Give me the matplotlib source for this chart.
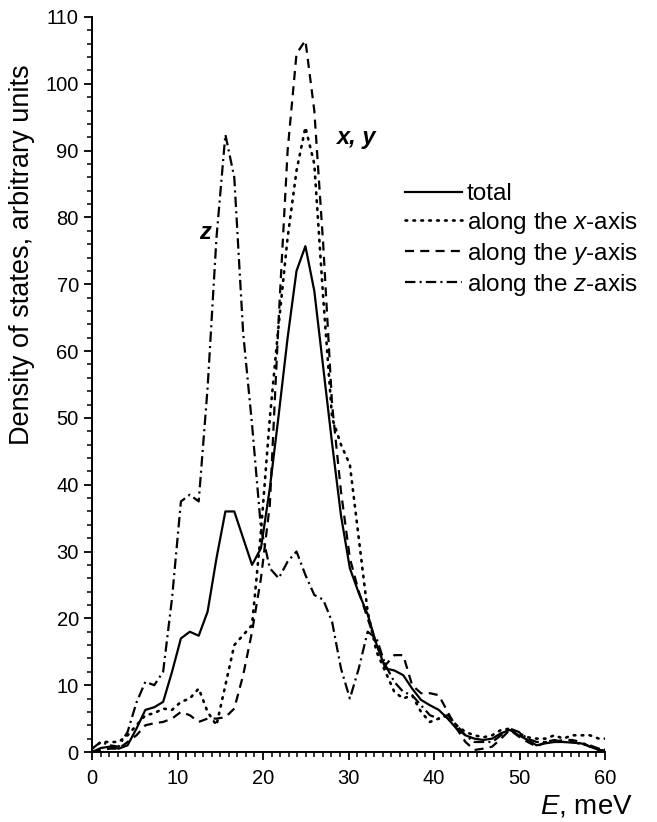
import matplotlib
matplotlib.use("Agg")
import matplotlib.pyplot as plt
from matplotlib.ticker import MultipleLocator

plt.rcParams['font.family'] = ['Liberation Sans', 'DejaVu Sans']
plt.rcParams['mathtext.fontset'] = 'custom'
plt.rcParams['mathtext.it'] = 'Liberation Sans:italic'
plt.rcParams['mathtext.rm'] = 'Liberation Sans'
plt.rcParams['lines.scale_dashes'] = False

# Energy grid (meV)
E = [0.00, 1.04, 2.08, 3.12, 4.16, 5.20, 6.24, 7.28, 8.32, 9.36,
     10.40, 11.44, 12.48, 13.52, 14.56, 15.60, 16.64, 17.68, 18.72, 19.76,
     20.80, 21.84, 22.88, 23.92, 24.96, 26.00, 27.04, 28.08, 29.12, 30.16,
     31.20, 32.24, 33.28, 34.32, 35.36, 36.40, 37.44, 38.48, 39.52, 40.56,
     41.60, 42.64, 43.68, 44.72, 45.76, 46.80, 47.84, 48.88, 49.92, 50.96,
     52.00, 53.04, 54.08, 55.12, 56.16, 57.20, 58.24, 59.28, 60.32]

total = [0.0, 0.6, 0.8, 0.5, 1.0, 3.5, 6.3, 6.7, 7.5, 12.0,
         17.0, 18.0, 17.4, 21.0, 29.0, 36.0, 36.0, 32.0, 28.0, 30.5,
         39.5, 50.5, 62.0, 72.0, 75.7, 69.0, 57.6, 46.2, 35.4, 27.5,
         23.8, 20.6, 16.1, 12.5, 12.2, 11.5, 9.5, 7.8, 7.0, 6.3,
         5.0, 3.5, 2.5, 2.0, 1.8, 2.0, 2.8, 3.3, 2.5, 1.8,
         1.0, 1.3, 1.5, 1.5, 1.4, 1.3, 0.8, 0.3, 0.0]

x_axis = [0.5, 1.5, 1.5, 1.5, 2.5, 4.0, 5.5, 5.8, 6.5, 6.3,
          7.5, 8.0, 9.5, 6.0, 4.0, 10.0, 16.0, 17.5, 19.0, 33.0,
          50.0, 64.0, 77.0, 87.0, 93.5, 88.0, 68.0, 50.0, 46.0, 43.0,
          32.0, 21.0, 15.0, 12.0, 9.0, 8.0, 8.5, 6.0, 4.5, 5.0,
          5.5, 4.0, 3.0, 2.5, 2.2, 2.5, 3.3, 3.5, 2.8, 2.2,
          2.0, 2.0, 2.5, 2.0, 2.5, 2.5, 2.5, 2.0, 2.0]

y_axis = [0.0, 0.3, 0.5, 0.5, 1.5, 2.5, 4.0, 4.3, 4.5, 5.0,
          6.0, 5.5, 4.5, 5.0, 5.0, 5.2, 6.5, 11.5, 18.0, 26.0,
          37.0, 65.0, 90.0, 104.5, 106.5, 96.0, 76.0, 52.0, 39.0, 29.0,
          24.0, 20.0, 16.0, 13.0, 14.5, 14.5, 10.0, 8.8, 8.8, 8.5,
          6.0, 3.5, 1.5, 0.3, 0.5, 0.8, 2.0, 3.3, 2.3, 1.5,
          0.8, 1.5, 1.5, 1.8, 1.8, 1.5, 0.8, 0.3, 0.2]

z_axis = [0.5, 1.5, 1.0, 0.8, 3.0, 7.4, 10.5, 10.0, 12.0, 23.0,
          37.5, 38.5, 37.5, 54.5, 77.0, 92.4, 86.0, 62.7, 49.0, 33.5,
          27.5, 26.0, 28.5, 30.0, 26.5, 23.5, 22.8, 19.5, 12.5, 8.0,
          12.5, 18.0, 17.0, 13.0, 10.5, 9.0, 8.5, 7.0, 5.5, 5.0,
          5.5, 4.0, 2.5, 1.5, 1.5, 1.5, 2.5, 3.5, 3.0, 2.0,
          1.5, 1.5, 1.8, 1.5, 1.5, 1.2, 1.0, 0.5, 0.3]

labels = ['total', 'along the $\\it{x}$-axis', 'along the $\\it{y}$-axis',
          'along the $\\it{z}$-axis']

fig = plt.figure(figsize=(6.57, 8.22), dpi=100)
ax = fig.add_axes([92/657, 1-752/822, (605-92)/657, (752-17)/822])

lw = 1.6
ax.plot(E, total, color='black', lw=lw, ls='-', label=labels[0])
ax.plot(E, x_axis, color='black', lw=lw+0.3, ls=(0, (1.2, 4.5)),
        dash_capstyle='round', label=labels[1])
ax.plot(E, y_axis, color='black', lw=lw, ls=(0, (6.5, 4.5)), label=labels[2])
ax.plot(E, z_axis, color='black', lw=lw, ls=(0, (7.5, 3, 1.5, 3)), label=labels[3])

ax.set_xlim(0, 60)
ax.set_ylim(0, 110)
ax.xaxis.set_major_locator(MultipleLocator(10))
ax.xaxis.set_minor_locator(MultipleLocator(1))
ax.yaxis.set_major_locator(MultipleLocator(10))
ax.yaxis.set_minor_locator(MultipleLocator(2))
ax.tick_params(which='major', direction='out', length=6, width=1.3, labelsize=14.5)
ax.tick_params(axis='x', which='major', pad=6)
ax.tick_params(which='minor', direction='out', length=3.5, width=1.1)
for s in ['top', 'right']:
    ax.spines[s].set_visible(False)
for s in ['left', 'bottom']:
    ax.spines[s].set_linewidth(1.4)

ax.set_ylabel('Density of states, arbitrary units', fontsize=19.5)
ax.yaxis.set_label_coords(-0.111, 0.676)
ax.set_xlabel('$\\it{E}$, meV', fontsize=20)
ax.xaxis.set_label_coords(0.963, -0.056)

ax.text(13.2, 77.7, 'z', fontsize=17, fontweight='bold', fontstyle='italic',
        ha='center', va='center')
ax.text(30.9, 92.0, 'x, y', fontsize=17, fontweight='bold', fontstyle='italic',
        ha='center', va='center')

leg = ax.legend(loc='upper left', bbox_to_anchor=(405/657, 1-183/822),
                bbox_transform=fig.transFigure, frameon=False, fontsize=17.5,
                handlelength=2.35, handletextpad=0.2, labelspacing=0.2,
                borderpad=0, borderaxespad=0)

fig.savefig('out.png', dpi=100)
